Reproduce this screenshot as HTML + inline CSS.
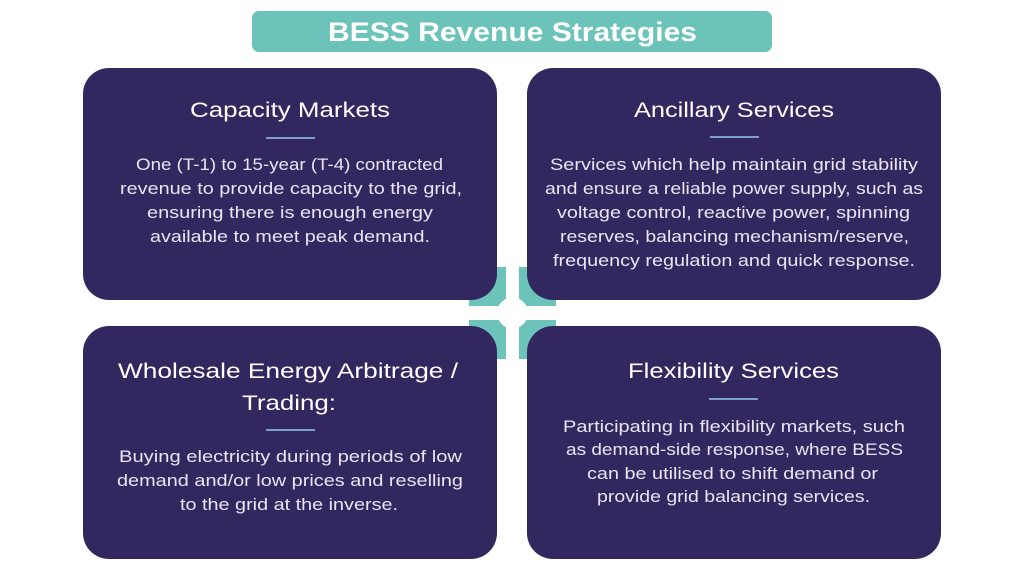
<!DOCTYPE html>
<html>
<head>
<meta charset="utf-8">
<style>
  html,body{margin:0;padding:0;background:#ffffff;}
  body{width:1024px;height:576px;overflow:hidden;}
  svg{display:block;}
  .h{font-family:"Liberation Sans",sans-serif;font-size:21.5px;fill:#ffffff;}
  .b{font-family:"Liberation Sans",sans-serif;font-size:16.5px;fill:#e9e5f3;}
  .t{font-family:"Liberation Sans",sans-serif;font-size:27px;font-weight:bold;fill:#ffffff;}
</style>
</head>
<body>
<svg width="1024" height="576" viewBox="0 0 1024 576" xmlns="http://www.w3.org/2000/svg">
  <rect x="0" y="0" width="1024" height="576" fill="#ffffff"/>

  <!-- Title -->
  <rect x="252" y="11" width="520" height="41" rx="7" fill="#6cc3b9"/>
  <text class="t" x="328" y="41" textLength="369" lengthAdjust="spacingAndGlyphs">BESS Revenue Strategies</text>

  <!-- Center teal cross -->
  <rect x="469" y="267" width="87" height="92" fill="#6cc3b9"/>
  <rect x="506" y="260" width="13" height="106" fill="#ffffff"/>
  <rect x="462" y="306" width="100" height="14" fill="#ffffff"/>
  <circle cx="512.5" cy="313" r="15.5" fill="#ffffff"/>

  <!-- Cards -->
  <rect x="83" y="68" width="414" height="232" rx="26" fill="#33275f"/>
  <rect x="527" y="68" width="414" height="232" rx="26" fill="#33275f"/>
  <rect x="83" y="326" width="414" height="233" rx="26" fill="#33275f"/>
  <rect x="527" y="326" width="414" height="233" rx="26" fill="#33275f"/>

  <!-- Dividers -->
  <rect x="266" y="137" width="49" height="2" fill="#7d9fcb"/>
  <rect x="710" y="136" width="49" height="2" fill="#7d9fcb"/>
  <rect x="266" y="429" width="49" height="2" fill="#7d9fcb"/>
  <rect x="709" y="398" width="49" height="2" fill="#7d9fcb"/>

  <!-- Capacity Markets -->
  <text class="h" x="190" y="117" textLength="200" lengthAdjust="spacingAndGlyphs">Capacity Markets</text>
  <text class="b" x="136" y="170" textLength="307" lengthAdjust="spacingAndGlyphs">One (T-1) to 15-year (T-4) contracted</text>
  <text class="b" x="120" y="194" textLength="342" lengthAdjust="spacingAndGlyphs">revenue to provide capacity to the grid,</text>
  <text class="b" x="147" y="218" textLength="286" lengthAdjust="spacingAndGlyphs">ensuring there is enough energy</text>
  <text class="b" x="150" y="242" textLength="280" lengthAdjust="spacingAndGlyphs">available to meet peak demand.</text>

  <!-- Ancillary Services -->
  <text class="h" x="634" y="117" textLength="200" lengthAdjust="spacingAndGlyphs">Ancillary Services</text>
  <text class="b" x="550" y="170" textLength="368" lengthAdjust="spacingAndGlyphs">Services which help maintain grid stability</text>
  <text class="b" x="545" y="194" textLength="378" lengthAdjust="spacingAndGlyphs">and ensure a reliable power supply, such as</text>
  <text class="b" x="557" y="218" textLength="353" lengthAdjust="spacingAndGlyphs">voltage control, reactive power, spinning</text>
  <text class="b" x="560" y="242" textLength="349" lengthAdjust="spacingAndGlyphs">reserves, balancing mechanism/reserve,</text>
  <text class="b" x="553" y="266" textLength="362" lengthAdjust="spacingAndGlyphs">frequency regulation and quick response.</text>

  <!-- Wholesale -->
  <text class="h" x="118" y="378" textLength="340" lengthAdjust="spacingAndGlyphs">Wholesale Energy Arbitrage /</text>
  <text class="h" x="242" y="410" textLength="94" lengthAdjust="spacingAndGlyphs">Trading:</text>
  <text class="b" x="119" y="462" textLength="343" lengthAdjust="spacingAndGlyphs">Buying electricity during periods of low</text>
  <text class="b" x="117" y="486" textLength="346" lengthAdjust="spacingAndGlyphs">demand and/or low prices and reselling</text>
  <text class="b" x="180" y="510" textLength="218" lengthAdjust="spacingAndGlyphs">to the grid at the inverse.</text>

  <!-- Flexibility -->
  <text class="h" x="628" y="378" textLength="211" lengthAdjust="spacingAndGlyphs">Flexibility Services</text>
  <text class="b" x="563" y="432" textLength="342" lengthAdjust="spacingAndGlyphs">Participating in flexibility markets, such</text>
  <text class="b" x="566" y="455" textLength="337" lengthAdjust="spacingAndGlyphs">as demand-side response, where BESS</text>
  <text class="b" x="587" y="479" textLength="291" lengthAdjust="spacingAndGlyphs">can be utilised to shift demand or</text>
  <text class="b" x="597" y="502" textLength="273" lengthAdjust="spacingAndGlyphs">provide grid balancing services.</text>
</svg>
</body>
</html>
